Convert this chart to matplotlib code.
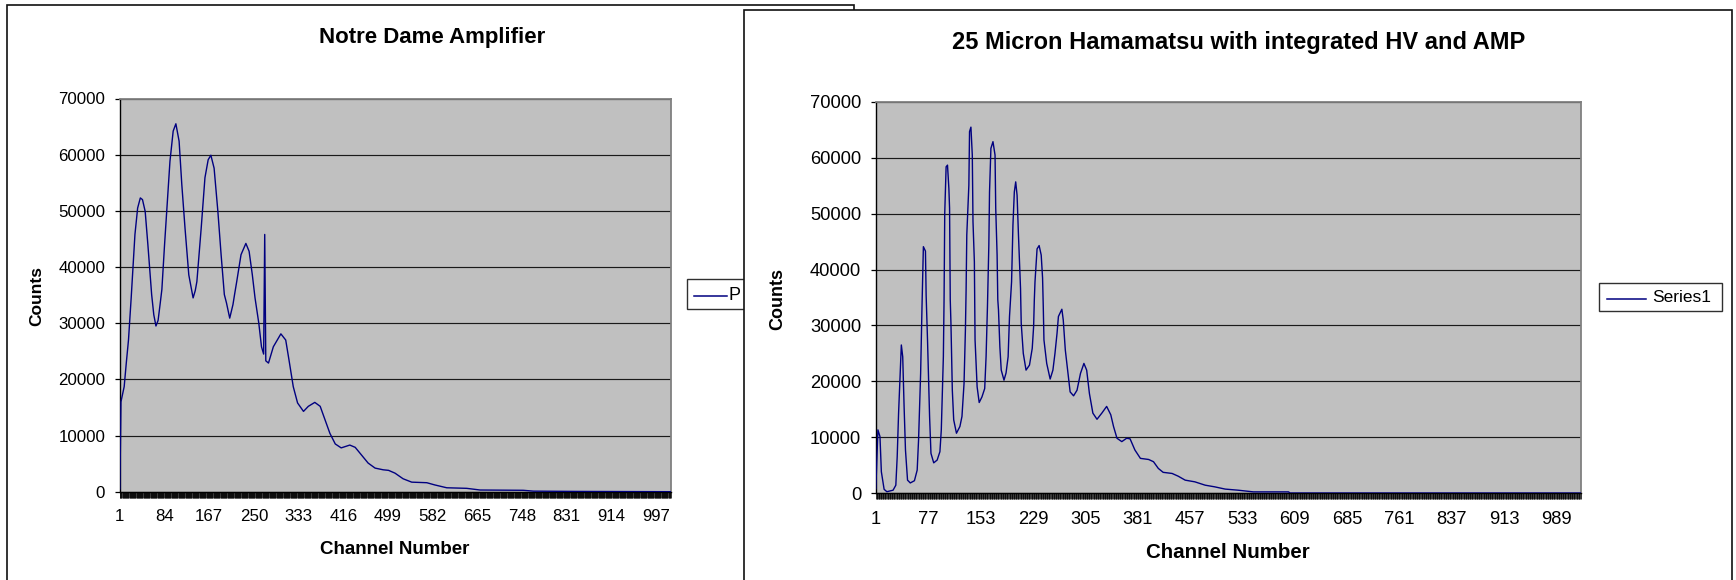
import matplotlib
matplotlib.use("Agg")
import matplotlib.pyplot as plt
from matplotlib.patches import Rectangle
from matplotlib.ticker import FixedLocator, MultipleLocator

# ---------------- data ----------------
nd_title = "Notre Dame Amplifier"
hm_title = "25 Micron Hamamatsu with integrated HV and AMP"
x_label = "Channel Number"
y_label = "Counts"
nd_legend = "P"
hm_legend = "Series1"

nd_channels = [1, 3, 9, 13, 17, 22, 29, 34, 39, 43, 48, 53, 60, 64, 68, 72, 76, 79, 84, 88,
               94, 100, 105, 111, 116, 122, 129, 137, 141, 144, 152, 159, 165, 170, 176, 183,
               189, 195, 199, 205, 211, 214, 218, 226, 235, 241, 247, 252, 259, 264, 268, 270,
               272, 277, 286, 300, 309, 315, 323, 331, 342, 351, 363, 373, 382, 391, 401, 412,
               428, 438, 450, 462, 475, 490, 500, 512, 527, 543, 571, 586, 608, 645, 670, 750,
               769, 850, 1024]
nd_counts = [500, 16000, 18700, 23000, 27000, 34500, 45800, 50500, 52300, 52000, 49900, 44000,
             35100, 31500, 29500, 30500, 33600, 36000, 44000, 49900, 58800, 64200, 65500, 62400,
             54700, 46900, 38600, 34500, 35800, 37400, 46900, 55900, 59100, 59900, 57600, 49900,
             42200, 35100, 33600, 30900, 33300, 35100, 37400, 42200, 44200, 42800, 38600, 34500,
             30000, 25800, 24500, 45800, 23300, 22900, 25800, 28100, 27000, 23500, 18700, 15800,
             14300, 15200, 15900, 15200, 12800, 10400, 8500, 7800, 8300, 7900, 6500, 5100, 4200,
             3900, 3800, 3300, 2300, 1700, 1600, 1200, 700, 600, 300, 250, 100, 50, 0]

hm_channels = [1, 4, 7, 9, 13, 17, 26, 30, 32, 34, 38, 40, 42, 44, 47, 51, 57, 61, 63, 66, 68,
               70, 73, 74, 76, 79, 81, 85, 90, 94, 96, 99, 100, 101, 103, 105, 107, 108, 109,
               110, 112, 114, 118, 123, 126, 129, 131, 132, 133, 136, 137, 139, 141, 142, 144,
               145, 148, 151, 155, 159, 161, 163, 165, 166, 168, 171, 174, 175, 177, 178, 179,
               181, 183, 187, 190, 193, 195, 198, 200, 202, 204, 206, 208, 211, 212, 215, 219,
               224, 228, 230, 231, 232, 235, 238, 241, 243, 244, 245, 249, 254, 258, 261, 264,
               266, 271, 273, 276, 280, 283, 288, 293, 298, 303, 307, 311, 316, 322, 329, 336,
               342, 346, 351, 358, 365, 370, 377, 385, 397, 404, 411, 418, 431, 440, 450, 464,
               479, 493, 508, 527, 549, 600, 602, 1024]
hm_counts = [800, 11300, 10100, 3800, 660, 230, 500, 1400, 6500, 14300, 26500, 24400, 15500,
             7700, 2300, 1800, 2200, 4100, 9500, 21400, 33400, 44100, 43300, 35400, 27400, 13700,
             7100, 5400, 5900, 7400, 11300, 24400, 34500, 50100, 58400, 58700, 54500, 51000,
             34600, 30400, 18400, 13100, 10700, 11900, 13700, 19600, 29200, 36300, 46200, 55100,
             64700, 65500, 60500, 48600, 41400, 27400, 19000, 16200, 17200, 18700, 24400, 33400,
             44400, 53900, 61700, 62900, 60500, 51000, 42600, 34600, 32800, 26200, 22000, 20200,
             21500, 24400, 31600, 37800, 48000, 53900, 55700, 53300, 46200, 36600, 30400, 25000,
             22000, 22900, 25900, 29800, 34500, 37800, 43700, 44300, 42600, 38500, 33400, 27400,
             23200, 20400, 22000, 25000, 28600, 31600, 32900, 31000, 25600, 21400, 18100, 17400,
             18400, 21400, 23200, 22000, 17800, 14300, 13200, 14300, 15500, 14000, 11900, 9800,
             9200, 9800, 9700, 7700, 6200, 6000, 5600, 4400, 3700, 3500, 3000, 2300, 2000, 1400,
             1100, 700, 500, 200, 200, 0, 0]

n_channels = 1024
nd_xticks = [1, 84, 167, 250, 333, 416, 499, 582, 665, 748, 831, 914, 997]
hm_xticks = [1, 77, 153, 229, 305, 381, 457, 533, 609, 685, 761, 837, 913, 989]
y_ticks = [0, 10000, 20000, 30000, 40000, 50000, 60000, 70000]

# ---------------- style ----------------
plt.rcParams['font.family'] = ['Liberation Sans', 'DejaVu Sans']
W, H = 1736, 580
DPI = 100
fig = plt.figure(figsize=(W / DPI, H / DPI), dpi=DPI)
fig.patch.set_facecolor('white')

LINE = '#000080'
PLOT_BG = '#C0C0C0'

# background axes in pixel coordinates
bg = fig.add_axes([0, 0, 1, 1], zorder=0)
bg.set_xlim(0, W)
bg.set_ylim(H, 0)
bg.axis('off')

# left chart frame
bg.add_patch(Rectangle((6.5, 5), 847.5, 700, facecolor='white', edgecolor='#101010',
                       lw=1.2, zorder=1, clip_on=False))
# left legend (partly hidden by the right chart)
bg.add_patch(Rectangle((687, 279), 120, 30, facecolor='white', edgecolor='#303030',
                       lw=1.0, zorder=2))
bg.plot([694, 727], [296, 296], color=LINE, lw=1.1, zorder=3)
bg.text(729, 295, nd_legend, fontsize=13, va='center', ha='left', zorder=3)

# right chart frame (on top)
bg.add_patch(Rectangle((744, 10), 988, 700, facecolor='white', edgecolor='#101010',
                       lw=1.2, zorder=5, clip_on=False))
# right legend
bg.add_patch(Rectangle((1599, 283), 123, 28, facecolor='white', edgecolor='#303030',
                       lw=1.0, zorder=6))
bg.plot([1607, 1646], [299.3, 299.3], color=LINE, lw=1.1, zorder=7)
bg.text(1652, 297.5, hm_legend, fontsize=12.5, va='center', ha='left', zorder=7)

# titles and axis labels
bg.text(432, 37, nd_title, fontsize=16, fontweight='bold', ha='center', va='center', zorder=3)
bg.text(1239, 42, hm_title, fontsize=17, fontweight='bold', ha='center', va='center', zorder=7)
bg.text(395, 549, x_label, fontsize=13.5, fontweight='bold', ha='center', va='center', zorder=3)
bg.text(1228, 552, x_label, fontsize=14.8, fontweight='bold', ha='center', va='center', zorder=7)
bg.text(37, 296, y_label, fontsize=12.5, fontweight='bold', ha='center', va='center',
        rotation=90, zorder=3)
bg.text(778, 299, y_label, fontsize=13, fontweight='bold', ha='center', va='center',
        rotation=90, zorder=7)


def make_axes(x0, x1, ytop, ybot, xs, ys, xticks, lsize):
    ax = fig.add_axes([x0 / W, (H - ybot) / H, (x1 - x0) / W, (ybot - ytop) / H], zorder=2)
    ax.set_facecolor(PLOT_BG)
    ax.set_xlim(0.5, n_channels + 0.5)
    ax.set_ylim(0, 70000)
    ax.yaxis.set_major_locator(FixedLocator(y_ticks))
    ax.set_yticklabels([str(v) for v in y_ticks])
    ax.xaxis.set_major_locator(FixedLocator(xticks))
    ax.set_xticklabels([str(v) for v in xticks])
    ax.xaxis.set_minor_locator(MultipleLocator(1))
    ax.grid(axis='y', color='#1a1a1a', lw=0.85, zorder=1)
    ax.set_axisbelow(True)
    for s in ('top', 'right'):
        ax.spines[s].set_color('#808080')
        ax.spines[s].set_linewidth(1.3)
    ax.spines['left'].set_color('#000000')
    ax.spines['left'].set_linewidth(1.0)
    ax.spines['bottom'].set_color('#000000')
    ax.spines['bottom'].set_linewidth(1.0)
    ax.tick_params(axis='y', direction='out', length=3.6, width=0.9, colors='black',
                   labelsize=lsize, pad=6.8)
    ax.tick_params(axis='x', which='both', direction='out', length=4.3, width=0.55,
                   colors='black', labelsize=lsize, pad=8.3)
    ax.plot(xs, ys, color=LINE, lw=1.0, zorder=3)
    return ax


ax1 = make_axes(119.6, 671, 98.5, 491.7, nd_channels, nd_counts, nd_xticks, 12.2)
ax2 = make_axes(875.5, 1581, 102, 493, hm_channels, hm_counts, hm_xticks, 13.2)

fig.savefig('out.png', dpi=DPI, facecolor='white')
